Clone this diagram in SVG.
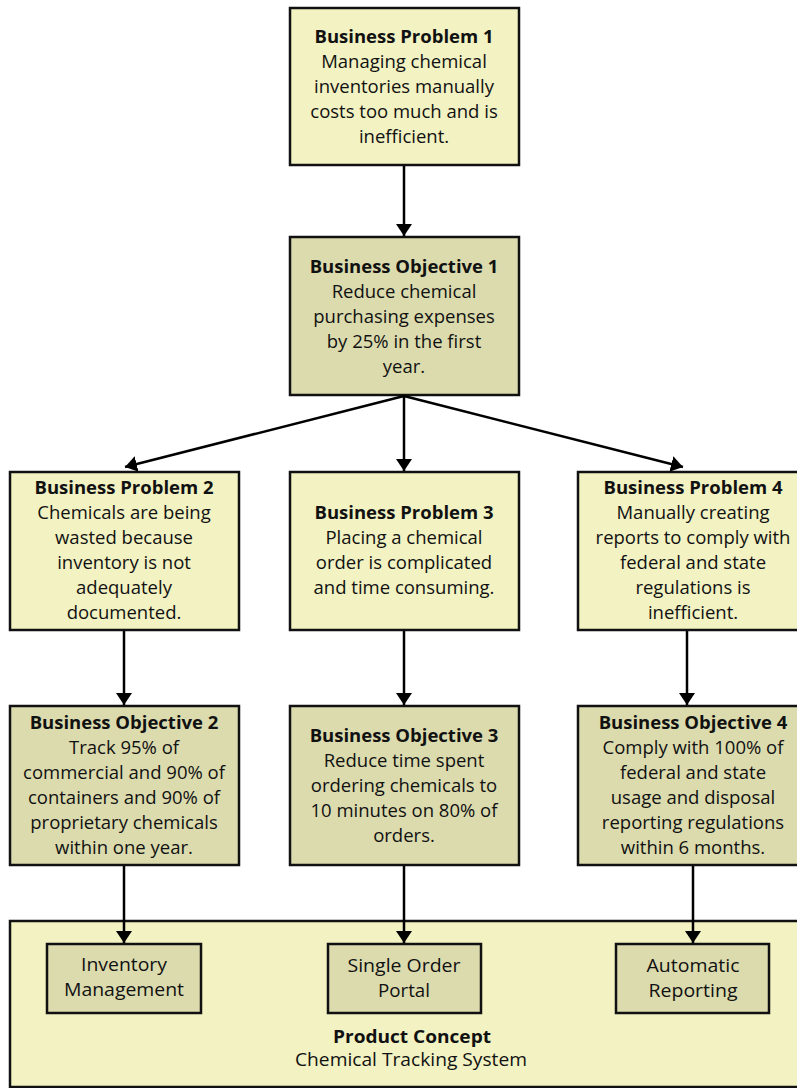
<svg xmlns="http://www.w3.org/2000/svg" width="797" height="1088" viewBox="0 0 797 1088">
<style>
.prob{fill:#f2f2c3;stroke:#111;stroke-width:2.5}
.obj{fill:#dbdbae;stroke:#111;stroke-width:2.5}
.t{font-family:"Open Sans","Noto Sans",sans-serif;font-size:18.5px;fill:#111;text-anchor:middle}
.b{font-weight:bold}
.s{font-family:"Open Sans","Noto Sans",sans-serif;font-size:18.5px;fill:#111;text-anchor:middle}
.conn{stroke:#000;stroke-width:2.5;fill:none;marker-end:url(#ah)}
</style>
<defs>
<marker id="ah" viewBox="0 0 12 16" refX="12" refY="8" markerWidth="12" markerHeight="16" markerUnits="userSpaceOnUse" orient="auto">
<path d="M0,0 L12,8 L0,16 Z" fill="#000"/>
</marker>
</defs>
<rect width="797" height="1088" fill="#fff"/>

<g id="product-concept">
<rect x="10" y="921" width="800" height="166" class="prob"/>
<text class="t b" x="412" y="1043" textLength="158" lengthAdjust="spacingAndGlyphs">Product Concept</text>
<text class="t" x="411" y="1066" textLength="232" lengthAdjust="spacingAndGlyphs">Chemical Tracking System</text>
</g>

<g id="bp1">
<rect x="290" y="8" width="229" height="157" class="prob"/>
<text class="t" x="404"><tspan class="b" x="404" y="43">Business Problem 1</tspan><tspan x="404" y="68">Managing chemical</tspan><tspan x="404" y="93">inventories manually</tspan><tspan x="404" y="118">costs too much and is</tspan><tspan x="404" y="143">inefficient.</tspan></text>
</g>

<g id="bo1">
<rect x="290" y="237" width="229" height="158" class="obj"/>
<text class="t" x="404"><tspan class="b" x="404" y="273">Business Objective 1</tspan><tspan x="404" y="298">Reduce chemical</tspan><tspan x="404" y="323">purchasing expenses</tspan><tspan x="404" y="348">by 25% in the first</tspan><tspan x="404" y="373">year.</tspan></text>
</g>

<g id="bp2">
<rect x="10" y="472" width="229" height="158" class="prob"/>
<text class="t"><tspan class="b" x="124" y="494">Business Problem 2</tspan><tspan x="124" y="519">Chemicals are being</tspan><tspan x="124" y="544">wasted because</tspan><tspan x="124" y="569">inventory is not</tspan><tspan x="124" y="594">adequately</tspan><tspan x="124" y="619">documented.</tspan></text>
</g>

<g id="bp3">
<rect x="290" y="472" width="229" height="158" class="prob"/>
<text class="t"><tspan class="b" x="404" y="519">Business Problem 3</tspan><tspan x="404" y="544">Placing a chemical</tspan><tspan x="404" y="569">order is complicated</tspan><tspan x="404" y="594">and time consuming.</tspan></text>
</g>

<g id="bp4">
<rect x="578" y="472" width="231" height="158" class="prob"/>
<text class="t"><tspan class="b" x="693" y="494">Business Problem 4</tspan><tspan x="693" y="519">Manually creating</tspan><tspan x="693" y="544">reports to comply with</tspan><tspan x="693" y="569">federal and state</tspan><tspan x="693" y="594">regulations is</tspan><tspan x="693" y="619">inefficient.</tspan></text>
</g>

<g id="bo2">
<rect x="10" y="706" width="229" height="159" class="obj"/>
<text class="t"><tspan class="b" x="124" y="729">Business Objective 2</tspan><tspan x="124" y="754">Track 95% of</tspan><tspan x="124" y="779">commercial and 90% of</tspan><tspan x="124" y="804">containers and 90% of</tspan><tspan x="124" y="829">proprietary chemicals</tspan><tspan x="124" y="854">within one year.</tspan></text>
</g>

<g id="bo3">
<rect x="290" y="706" width="229" height="159" class="obj"/>
<text class="t"><tspan class="b" x="404" y="742">Business Objective 3</tspan><tspan x="404" y="767">Reduce time spent</tspan><tspan x="404" y="792">ordering chemicals to</tspan><tspan x="404" y="817">10 minutes on 80% of</tspan><tspan x="404" y="842">orders.</tspan></text>
</g>

<g id="bo4">
<rect x="578" y="706" width="231" height="159" class="obj"/>
<text class="t"><tspan class="b" x="693" y="729">Business Objective 4</tspan><tspan x="693" y="754">Comply with 100% of</tspan><tspan x="693" y="779">federal and state</tspan><tspan x="693" y="804">usage and disposal</tspan><tspan x="693" y="829">reporting regulations</tspan><tspan x="693" y="854">within 6 months.</tspan></text>
</g>

<g id="inventory-management">
<rect x="47" y="944" width="154" height="69" class="obj"/>
<text class="s"><tspan x="124" y="971" textLength="86" lengthAdjust="spacingAndGlyphs">Inventory</tspan><tspan x="124" y="996" textLength="120" lengthAdjust="spacingAndGlyphs">Management</tspan></text>
</g>

<g id="single-order-portal">
<rect x="328" y="944" width="153" height="69" class="obj"/>
<text class="s"><tspan x="404" y="972" textLength="113" lengthAdjust="spacingAndGlyphs">Single Order</tspan><tspan x="404" y="997" textLength="52" lengthAdjust="spacingAndGlyphs">Portal</tspan></text>
</g>

<g id="automatic-reporting">
<rect x="616" y="944" width="153" height="69" class="obj"/>
<text class="s"><tspan x="693" y="972" textLength="93" lengthAdjust="spacingAndGlyphs">Automatic</tspan><tspan x="693" y="997" textLength="89" lengthAdjust="spacingAndGlyphs">Reporting</tspan></text>
</g>

<g id="connectors">
<line x1="404" y1="166" x2="404" y2="236" class="conn"/>
<line x1="404" y1="396" x2="125" y2="467" class="conn"/>
<line x1="404" y1="396" x2="404" y2="471" class="conn"/>
<line x1="404" y1="396" x2="683" y2="467" class="conn"/>
<line x1="124" y1="631" x2="124" y2="705" class="conn"/>
<line x1="404" y1="631" x2="404" y2="705" class="conn"/>
<line x1="687" y1="631" x2="687" y2="705" class="conn"/>
<line x1="124" y1="866" x2="124" y2="943" class="conn"/>
<line x1="404" y1="866" x2="404" y2="943" class="conn"/>
<line x1="693" y1="866" x2="693" y2="943" class="conn"/>
</g>
</svg>
